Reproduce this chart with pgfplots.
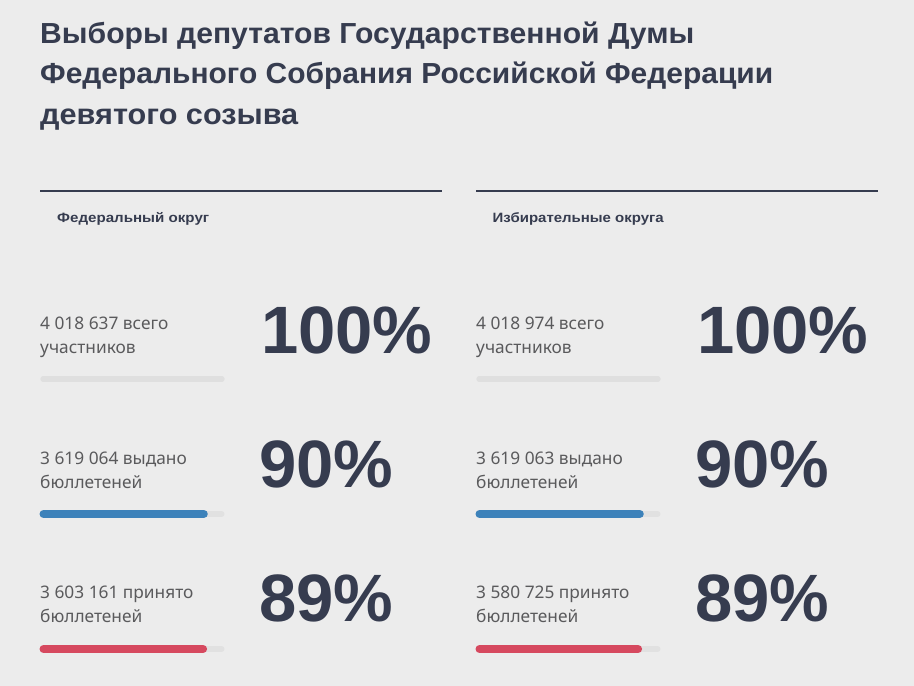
\documentclass[border=0pt]{standalone}
\usepackage{graphicx}
\usepackage{pgfplots}
\pgfplotsset{compat=1.18}
\usepackage{fontspec}
\setmainfont{Noto Sans}
\newfontfamily\headfont{Liberation Sans}
\newfontfamily\bodyfont{Noto Sans}

\definecolor{bgc}{HTML}{ECECEC}
\definecolor{ink}{HTML}{363C4F}
\definecolor{txt}{HTML}{5A5A5C}
\definecolor{trk}{HTML}{E1E1E1}
\definecolor{fullbar}{HTML}{DFDFDF}
\definecolor{bluebar}{HTML}{3D82BA}
\definecolor{redbar}{HTML}{D6495F}

\pgfplotsset{
  progress/.style={
    hide axis, scale only axis, clip=false,
    width=178pt, height=270pt,
    xmin=0, xmax=100, ymin=0, ymax=2,
    anchor=south west,
  },
  track/.style={trk, line width=6pt, line cap=round},
  fill100/.style={fullbar, line width=6pt, line cap=round},
  fillblue/.style={bluebar, line width=8pt, line cap=round},
  fillred/.style={redbar, line width=8pt, line cap=round},
}

\tikzset{
  ttl/.style={anchor=base west, inner sep=0pt, text=ink,
    font=\headfont\bfseries\fontsize{29}{40}\selectfont},
  sub/.style={anchor=base west, inner sep=0pt, text=ink,
    font=\headfont\bfseries\fontsize{13.5}{16}\selectfont},
  lbl/.style={anchor=base west, inner sep=0pt, text=txt,
    font=\bodyfont\fontsize{17.3}{20}\selectfont},
  big/.style={anchor=base west, inner sep=0pt, text=ink,
    font=\headfont\bfseries\fontsize{67}{72}\selectfont},
}
% stretch a line horizontally to the width it has in the reference
\newcommand\fitw[2]{\resizebox{#1}{\height}{#2}}

\begin{document}
\begin{tikzpicture}
\fill[bgc] (0,0) rectangle (914pt,686pt);
\useasboundingbox (0,0) rectangle (914pt,686pt);

% title
\node[ttl] at (40pt,642.5pt) {\fitw{654pt}{Выборы депутатов Государственной Думы}};
\node[ttl] at (40pt,602pt) {\fitw{733pt}{Федерального Собрания Российской Федерации}};
\node[ttl] at (40pt,561.5pt) {\fitw{258pt}{девятого созыва}};

% rules and subheads
\draw[ink, line width=2pt] (40pt,495pt) -- (442pt,495pt);
\draw[ink, line width=2pt] (476pt,495pt) -- (878pt,495pt);
\node[sub] at (57pt,463pt) {\fitw{152pt}{Федеральный округ}};
\node[sub] at (492.5pt,463pt) {\fitw{171pt}{Избирательные округа}};

% left panel labels
\node[lbl] at (40pt,356pt) {4 018 637 всего};
\node[lbl] at (40pt,332pt) {участников};
\node[lbl] at (40pt,221pt) {3 619 064 выдано};
\node[lbl] at (40pt,197pt) {бюллетеней};
\node[lbl] at (40pt,87pt) {3 603 161 принято};
\node[lbl] at (40pt,63pt) {бюллетеней};
\node[big] at (261pt,332pt) {100\%};
\node[big] at (259pt,198pt) {90\%};
\node[big] at (259pt,64pt) {89\%};

% right panel labels
\node[lbl] at (476pt,356pt) {4 018 974 всего};
\node[lbl] at (476pt,332pt) {участников};
\node[lbl] at (476pt,221pt) {3 619 063 выдано};
\node[lbl] at (476pt,197pt) {бюллетеней};
\node[lbl] at (476pt,87pt) {3 580 725 принято};
\node[lbl] at (476pt,63pt) {бюллетеней};
\node[big] at (697pt,332pt) {100\%};
\node[big] at (695pt,198pt) {90\%};
\node[big] at (695pt,64pt) {89\%};

% progress bars: row 2 = all participants, 1 = issued, 0 = accepted
\begin{axis}[progress, at={(43.5pt,37pt)}]
\addplot[track] coordinates {(0,2) (100,2)};
\addplot[track] coordinates {(0,1) (100,1)};
\addplot[track] coordinates {(0,0) (100,0)};
\addplot[fill100] coordinates {(0,2) (100,2)};
\addplot[fillblue] coordinates {(0,1) (90.06,1)};
\addplot[fillred] coordinates {(0,0) (89.66,0)};
\end{axis}

\begin{axis}[progress, at={(479.5pt,37pt)}]
\addplot[track] coordinates {(0,2) (100,2)};
\addplot[track] coordinates {(0,1) (100,1)};
\addplot[track] coordinates {(0,0) (100,0)};
\addplot[fill100] coordinates {(0,2) (100,2)};
\addplot[fillblue] coordinates {(0,1) (90.05,1)};
\addplot[fillred] coordinates {(0,0) (89.10,0)};
\end{axis}
\end{tikzpicture}
\end{document}
